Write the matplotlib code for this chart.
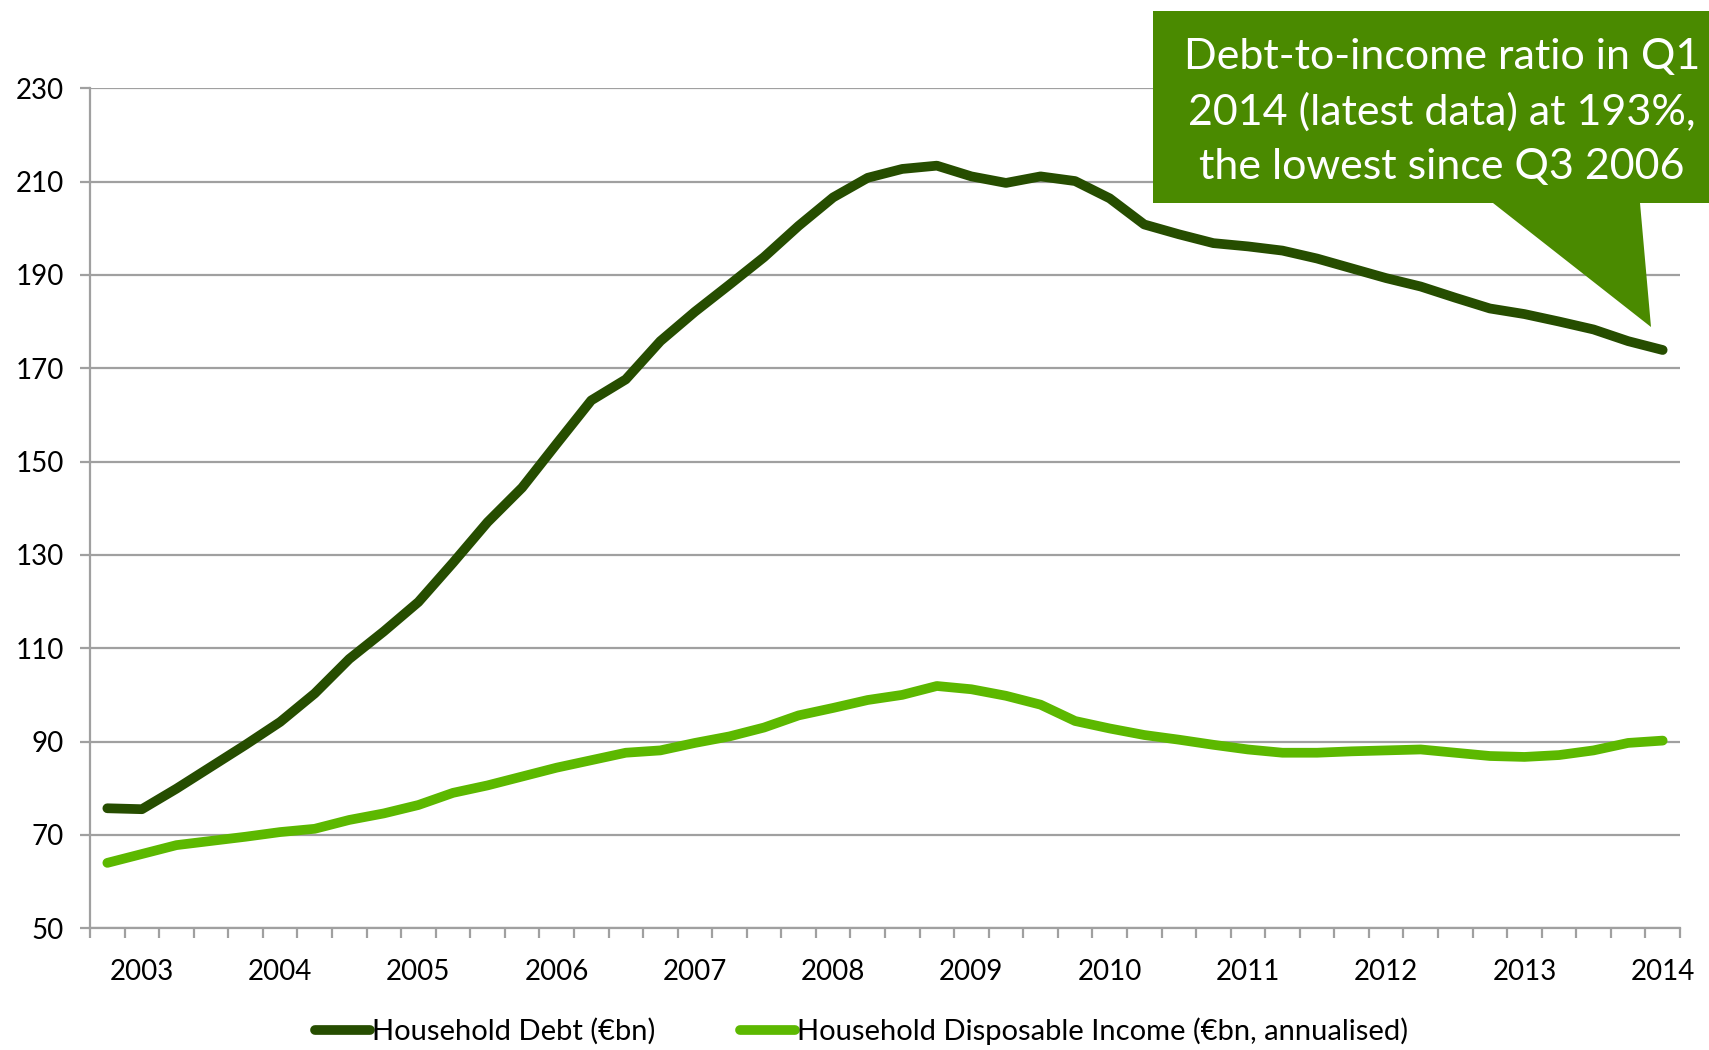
import numpy as np
import matplotlib.pyplot as plt
from matplotlib.patches import Polygon

plt.rcParams['font.family'] = ['Lato', 'DejaVu Sans']

# Quarterly data, Q4 2002 to Q1 2014
quarters = ['Q4 2002'] + [f'Q{q} {y}' for y in range(2003, 2014) for q in range(1, 5)] + ['Q1 2014']

debt = [75.7, 75.5, 79.9, 84.6, 89.3, 94.2, 100.3, 107.7, 113.6, 119.9,
        128.3, 137.0, 144.4, 153.8, 163.1, 167.6, 175.8, 182.1, 187.9, 193.8,
        200.5, 206.6, 210.8, 212.7, 213.4, 211.1, 209.7, 211.1, 210.1, 206.4,
        200.8, 198.7, 196.8, 196.1, 195.2, 193.5, 191.4, 189.3, 187.5, 185.1,
        182.8, 181.6, 180.0, 178.3, 175.8, 173.9]

income = [64.0, 65.9, 67.8, 68.7, 69.6, 70.6, 71.3, 73.2, 74.6, 76.4,
          79.0, 80.6, 82.5, 84.4, 86.0, 87.6, 88.1, 89.7, 91.1, 93.0,
          95.6, 97.2, 98.9, 100.0, 101.9, 101.2, 99.8, 97.9, 94.4, 92.8,
          91.4, 90.4, 89.3, 88.3, 87.6, 87.6, 87.9, 88.1, 88.3, 87.6,
          86.9, 86.7, 87.1, 88.1, 89.7, 90.2]

year_labels = [str(y) for y in range(2003, 2015)]
y_ticks = list(range(50, 231, 20))

dark_green = '#264d00'
light_green = '#5cb800'
box_green = '#4a8a00'
grid_grey = '#a0a0a0'

fig = plt.figure(figsize=(17.09, 10.50), dpi=100)
ax = fig.add_axes([0.0527, 0.116, 0.9303, 0.800])

x = np.arange(len(quarters))
ax.plot(x, debt, color=dark_green, lw=7, solid_capstyle='round', solid_joinstyle='round',
        label='Household Debt (€bn)', zorder=3)
ax.plot(x, income, color=light_green, lw=7, solid_capstyle='round', solid_joinstyle='round',
        label='Household Disposable Income (€bn, annualised)', zorder=3)

ax.set_xlim(-0.5, len(quarters) - 0.5)
ax.set_ylim(50, 230)
ax.set_yticks(y_ticks)
ax.yaxis.grid(True, color=grid_grey, lw=1.6)
ax.set_axisbelow(True)

# year labels sit on Q1 of each year
ax.set_xticks(x[1::4])
ax.set_xticklabels(year_labels)
ax.set_xticks(np.arange(-0.5, len(quarters), 1), minor=True)
ax.tick_params(axis='x', which='major', length=0, pad=22, labelsize=20)
ax.tick_params(axis='x', which='minor', length=7, width=1.6, color=grid_grey)
ax.tick_params(axis='y', length=7, width=1.6, color=grid_grey, labelsize=20, pad=12)

for s in ['top', 'right']:
    ax.spines[s].set_visible(False)
for s in ['left', 'bottom']:
    ax.spines[s].set_color(grid_grey)
    ax.spines[s].set_linewidth(1.6)

fig.legend(*ax.get_legend_handles_labels(), loc='center', bbox_to_anchor=(0.504, 0.0),
           bbox_transform=fig.transFigure, ncol=2, frameon=False,
           fontsize=21, handlelength=1.9, handletextpad=0.05, columnspacing=2.9)
fig.legends[0].set_bbox_to_anchor((0.504, 1 - 1031 / 1050), transform=fig.transFigure)

# callout box
W, H = 1709, 1050
pts = [(1153, 11), (1712, 11), (1712, 203), (1640, 203), (1651, 327), (1493, 203), (1153, 203)]
poly = Polygon([(px / W, 1 - py / H) for px, py in pts], closed=True,
               transform=fig.transFigure, facecolor=box_green, edgecolor='none', zorder=5)
fig.patches.append(poly)
fig.text(1442 / W, 1 - 112 / H,
         'Debt-to-income ratio in Q1\n2014 (latest data) at 193%,\nthe lowest since Q3 2006',
         ha='center', va='center', color='white', fontsize=31, linespacing=1.5, zorder=6)

fig.savefig('out.png', dpi=100)
